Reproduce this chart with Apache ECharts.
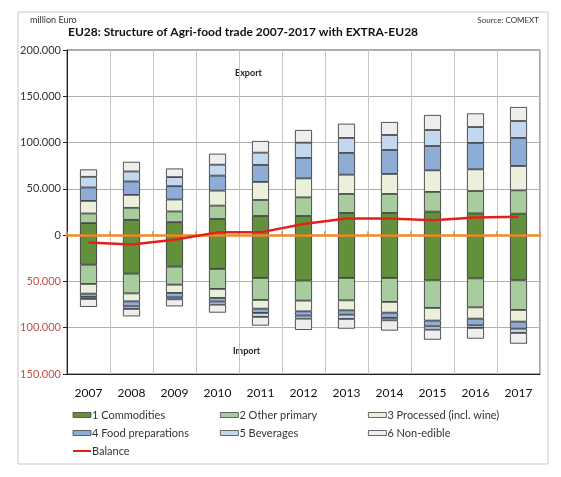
<!DOCTYPE html>
<html lang="en">
<head>
    <meta charset="UTF-8">
    <title>EU28 Agri-food trade</title>
    <script src="https://cdn.jsdelivr.net/npm/echarts@6/dist/echarts.min.js"></script>
    <style>
        html, body { margin: 0; padding: 0; background: #fff; }
    </style>
</head>
<body>
<div id="main" style="width: 561px;height:477px;"></div>
<script type="text/javascript">
    // million Euro
    var years = ['2007', '2008', '2009', '2010', '2011', '2012', '2013', '2014', '2015', '2016', '2017'];

    // export side (positive)
    var expCommodities = [13000, 16500, 14000, 17500, 20700, 20700, 24000, 24000, 25400, 23500, 23200];
    var expOtherPrimary = [10400, 13000, 11600, 14400, 17300, 20100, 20500, 20500, 21300, 24200, 25200];
    var expProcessed = [13600, 14000, 12900, 16200, 19500, 20500, 20800, 21600, 23300, 23400, 26300];
    var expFoodPrep = [14500, 14500, 14400, 16200, 18300, 22100, 23500, 25900, 26300, 28500, 30300];
    var expBeverages = [11500, 10800, 9800, 11800, 13300, 16500, 16200, 16200, 17300, 17200, 18300];
    var expNonEdible = [8000, 10400, 9300, 11900, 12600, 13700, 15400, 14000, 16200, 14700, 15100];

    // import side (negative)
    var impCommodities = [-31900, -41600, -34000, -36500, -46200, -49100, -46200, -46200, -48800, -46700, -48800];
    var impOtherPrimary = [-20800, -21300, -19500, -21600, -23800, -21600, -24200, -25900, -29800, -31300, -32000];
    var impProcessed = [-10500, -8600, -8900, -9700, -9400, -11600, -10800, -11600, -13700, -12200, -12600];
    var impFoodPrep = [-3500, -5400, -4800, -4000, -4600, -4600, -4700, -5700, -6200, -7200, -7600];
    var impBeverages = [-2200, -2800, -2100, -3300, -4300, -3300, -4600, -2600, -3600, -2800, -4600];
    var impNonEdible = [-8600, -8000, -7600, -8600, -9400, -12200, -10500, -11100, -10800, -11600, -11600];

    var balance = [-8000, -10000, -5000, 3000, 3000, 12000, 18000, 18000, 16000, 19000, 20000];

    var yTicks = { min: -150000, max: 200000, interval: 50000 };

    var groups = [
        { name: '1 Commodities', color: '#63913b', exp: expCommodities, imp: impCommodities },
        { name: '2 Other primary', color: '#a8cc9e', exp: expOtherPrimary, imp: impOtherPrimary },
        { name: '3 Processed (incl. wine)', color: '#ebf0dd', exp: expProcessed, imp: impProcessed },
        { name: '4 Food preparations', color: '#8eadd6', exp: expFoodPrep, imp: impFoodPrep },
        { name: '5 Beverages', color: '#c3d7ef', exp: expBeverages, imp: impBeverages },
        { name: '6 Non-edible', color: '#eeeeee', exp: expNonEdible, imp: impNonEdible }
    ];

    var font = 'Lato, "Open Sans", sans-serif';

    function fmt(v) {
        var s = String(Math.abs(v));
        return s.replace(/\B(?=(\d{3})+(?!\d))/g, '.');
    }

    var series = [];
    groups.forEach(function (g) {
        [g.exp, g.imp].forEach(function (arr) {
            series.push({
                name: g.name,
                type: 'bar',
                stack: 'trade',
                xAxisIndex: 1,
                barWidth: 17,
                itemStyle: { color: g.color, borderColor: '#2b2b2b', borderWidth: 0.8 },
                emphasis: { disabled: true },
                data: arr
            });
        });
    });
    series.push({
        name: 'Balance',
        type: 'line',
        xAxisIndex: 1,
        symbol: 'none',
        z: 10,
        lineStyle: { color: '#e3201b', width: 2.5 },
        itemStyle: { color: '#e3201b' },
        data: balance
    });

    function barItem(n) {
        return { name: n, icon: 'rect', itemStyle: { borderColor: '#444', borderWidth: 0.8 } };
    }

    function legendCol(left, items) {
        return {
            orient: 'vertical',
            left: left,
            top: 404,
            itemWidth: 18,
            itemHeight: 5,
            itemGap: 6,
            selectedMode: false,
            textStyle: { fontFamily: font, fontSize: 11, color: '#333', padding: [0, 0, 0, -4], lineHeight: 12 },
            data: items
        };
    }

    var myChart = echarts.init(document.getElementById('main'));
    myChart.setOption({
        animation: false,
        textStyle: { fontFamily: font },
        grid: {
            left: 67, right: 21, top: 50, bottom: 103,
            show: true, borderColor: '#555', borderWidth: 1
        },
        legend: [
            legendCol(67, [barItem('1 Commodities'), barItem('4 Food preparations'), { name: 'Balance', itemStyle: { opacity: 0 } }]),
            legendCol(215, [barItem('2 Other primary'), barItem('5 Beverages')]),
            legendCol(363, [barItem('3 Processed (incl. wine)'), barItem('6 Non-edible')])
        ],
        xAxis: [
            {
                type: 'category',
                data: years,
                position: 'top',
                z: 5,
                axisLine: { onZero: true, lineStyle: { color: '#ee8a2a', width: 2.5 } },
                axisTick: { show: true, length: 4, lineStyle: { color: '#ee8a2a', width: 1.5 } },
                axisLabel: { show: false },
                splitLine: { show: false }
            },
            {
                type: 'category',
                data: years,
                position: 'bottom',
                axisLine: { onZero: false, lineStyle: { color: '#222', width: 1 } },
                axisTick: { show: false },
                axisLabel: { color: '#111', fontSize: 12, margin: 13, fontFamily: font },
                splitLine: { show: true, lineStyle: { color: '#c4c4c4', width: 1 } }
            }
        ],
        yAxis: {
            type: 'value',
            min: yTicks.min,
            max: yTicks.max,
            interval: yTicks.interval,
            axisLine: { show: true, lineStyle: { color: '#222' } },
            axisTick: { show: true, length: 4, lineStyle: { color: '#222' } },
            axisLabel: {
                fontSize: 11,
                margin: 6,
                fontFamily: font,
                formatter: fmt,
                color: function (v) { return v < 0 ? '#c0504d' : '#333'; }
            },
            splitLine: { lineStyle: { color: '#b0b0b0', width: 1 } }
        },
        graphic: [
            { type: 'rect', shape: { x: 18, y: 12, width: 530, height: 452 }, style: { fill: null, stroke: '#c8c8c8', lineWidth: 1 }, silent: true },
            { type: 'text', left: 30, top: 16, style: { text: 'million Euro', font: '9px ' + font, fill: '#333' } },
            { type: 'text', right: 22, top: 16, style: { text: 'Source: COMEXT', font: '8px ' + font, fill: '#333' } },
            { type: 'text', left: 68, top: 26, style: { text: 'EU28: Structure of Agri-food trade 2007-2017 with EXTRA-EU28', font: 'bold 12px ' + font, fill: '#111' } },
            { type: 'text', left: 235, top: 69, style: { text: 'Export', font: 'bold 9px ' + font, fill: '#222' } },
            { type: 'text', left: 233, top: 347, style: { text: 'Import', font: 'bold 9px ' + font, fill: '#222' } }
        ],
        series: series
    });
</script>
</body>
</html>
